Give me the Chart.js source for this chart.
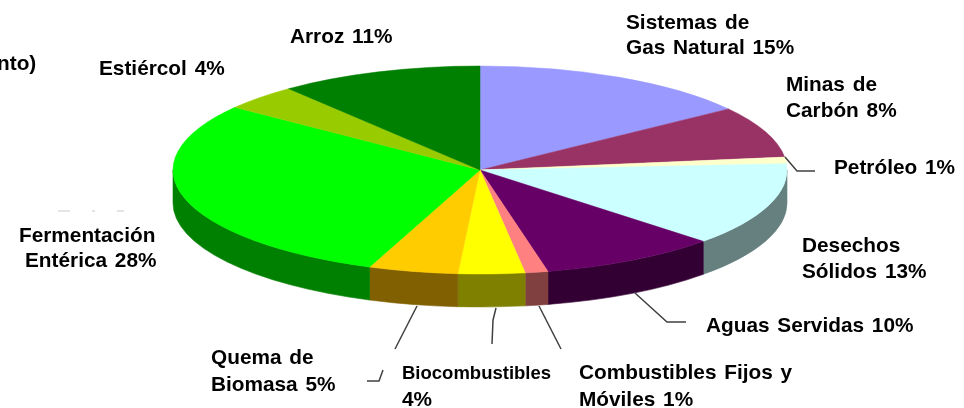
<!DOCTYPE html>
<html lang="es">
<head>
<meta charset="utf-8">
<title>Emisiones de metano</title>
<script src="https://cdn.jsdelivr.net/npm/chart.js@4"></script>
<style>
    html, body { margin: 0; padding: 0; background: #fff; overflow: hidden; }
    canvas { display: block; }
</style>
</head>
<body>
<canvas id="pieChart" width="964" height="408"></canvas>
<script>
const CATEGORIES = [
    'Sistemas de Gas Natural', 'Minas de Carbón', 'Petróleo', 'Desechos Sólidos',
    'Aguas Servidas', 'Combustibles Fijos y Móviles', 'Biocombustibles',
    'Quema de Biomasa', 'Fermentación Entérica', 'Estiércol', 'Arroz'
];

// slice sizes as measured on the picture, the printed percentages are in the labels
const SLICE_SHARES = [15, 8, 1, 13, 9.4, 1.2, 3.5, 4.7, 29.4, 4, 10.7];

const TOP_COLORS = [
    '#9999FF', '#993366', '#FFFFCC', '#CCFFFF', '#660066', '#FF8080',
    '#FFFF00', '#FFCC00', '#00FF00', '#99CC00', '#008000'
];

const SIDE_COLORS = [
    '#4D4D80', '#4D1A33', '#808066', '#668080', '#330033', '#804040',
    '#808000', '#806000', '#008000', '#4D6600', '#004000'
];

const LABELS = [
    ['Sistemas de', 626, 29], ['Gas Natural 15%', 626, 54],
    ['Minas de', 786, 91], ['Carbón 8%', 786, 117],
    ['Petróleo 1%', 834, 174],
    ['Desechos', 802, 252], ['Sólidos 13%', 802, 278],
    ['Aguas Servidas 10%', 706, 332],
    ['Combustibles Fijos y', 579, 379], ['Móviles 1%', 579, 406],
    ['4%', 402, 406],
    ['Quema de', 211, 364], ['Biomasa 5%', 211, 391],
    ['Fermentación', 19, 242], ['Entérica 28%', 25, 267],
    ['Estiércol 4%', 99, 75],
    ['Arroz 11%', 290, 43],
    ['nto)', -3, 70]
];
const SMALL_LABELS = [['Biocombustibles', 402, 379]];

const LEADERS = [
    [[785, 157], [797, 171], [815, 171]],
    [[635, 293], [667, 322], [686, 322]],
    [[539, 306], [561, 349]],
    [[496, 308], [493, 320], [492, 344]],
    [[417, 306], [395, 349]],
    [[383, 370], [379, 381], [367, 381]]
];

const GHOST_MARKS = [[[58, 211], [70, 211]], [[92, 211], [95, 211]], [[117, 211], [124, 211]]];

const CENTER_X = 480;
const CENTER_Y = 170;
const RADIUS_X = 307;
const RADIUS_Y = 104;
const DEPTH = 33;

function drawWalls(ctx, arcs) {
    arcs.forEach(function (arc, index) {
        const from = Math.max(arc.startAngle, 0);
        const to = Math.min(arc.endAngle, Math.PI);

        if (from >= to)
            return;

        ctx.beginPath();
        ctx.ellipse(CENTER_X, CENTER_Y, RADIUS_X, RADIUS_Y, 0, from, to);
        ctx.ellipse(CENTER_X, CENTER_Y + DEPTH, RADIUS_X, RADIUS_Y, 0, to, from, true);
        ctx.closePath();
        ctx.fillStyle = SIDE_COLORS[index];
        ctx.fill();
        ctx.strokeStyle = SIDE_COLORS[index];
        ctx.lineWidth = 0.6;
        ctx.stroke();
    });
}

function drawPolyline(ctx, points, color, width) {
    ctx.beginPath();
    points.forEach(function (point, index) {
        if (index === 0)
            ctx.moveTo(point[0], point[1]);
        else
            ctx.lineTo(point[0], point[1]);
    });
    ctx.strokeStyle = color;
    ctx.lineWidth = width;
    ctx.stroke();
}

function drawLabels(ctx, labels, font) {
    ctx.font = font;
    ctx.fillStyle = '#000';
    ctx.textAlign = 'left';
    ctx.textBaseline = 'alphabetic';
    labels.forEach(function (label) {
        ctx.fillText(label[0], label[1], label[2]);
    });
}

const flatPie = {
    id: 'flatPie',
    beforeDatasetsDraw(chart) {
        const ctx = chart.ctx;
        const arcs = chart.getDatasetMeta(0).data;
        const first = arcs[0];

        drawWalls(ctx, arcs);

        ctx.save();
        ctx.translate(CENTER_X, CENTER_Y);
        ctx.scale(RADIUS_X / first.outerRadius, RADIUS_Y / first.outerRadius);
        ctx.translate(-first.x, -first.y);
    },
    afterDatasetsDraw(chart) {
        const ctx = chart.ctx;
        ctx.restore();

        LEADERS.forEach(function (points) {
            drawPolyline(ctx, points, '#404040', 1.5);
        });
        GHOST_MARKS.forEach(function (points) {
            drawPolyline(ctx, points, '#c8c8c8', 1);
        });

        ctx.save();
        ctx.wordSpacing = '2px';
        drawLabels(ctx, LABELS, 'bold 20.8px "Liberation Sans"');
        ctx.wordSpacing = '0px';
        drawLabels(ctx, SMALL_LABELS, 'bold 18.5px "Liberation Sans"');
        ctx.restore();
    }
};

new Chart(document.getElementById('pieChart'), {
    type: 'pie',
    plugins: [flatPie],
    data: {
        labels: CATEGORIES,
        datasets: [{
            data: SLICE_SHARES,
            backgroundColor: TOP_COLORS,
            borderColor: TOP_COLORS,
            borderWidth: 0.5
        }]
    },
    options: {
        responsive: false,
        animation: false,
        plugins: {
            legend: { display: false },
            tooltip: { enabled: false }
        }
    }
});
</script>
</body>
</html>
